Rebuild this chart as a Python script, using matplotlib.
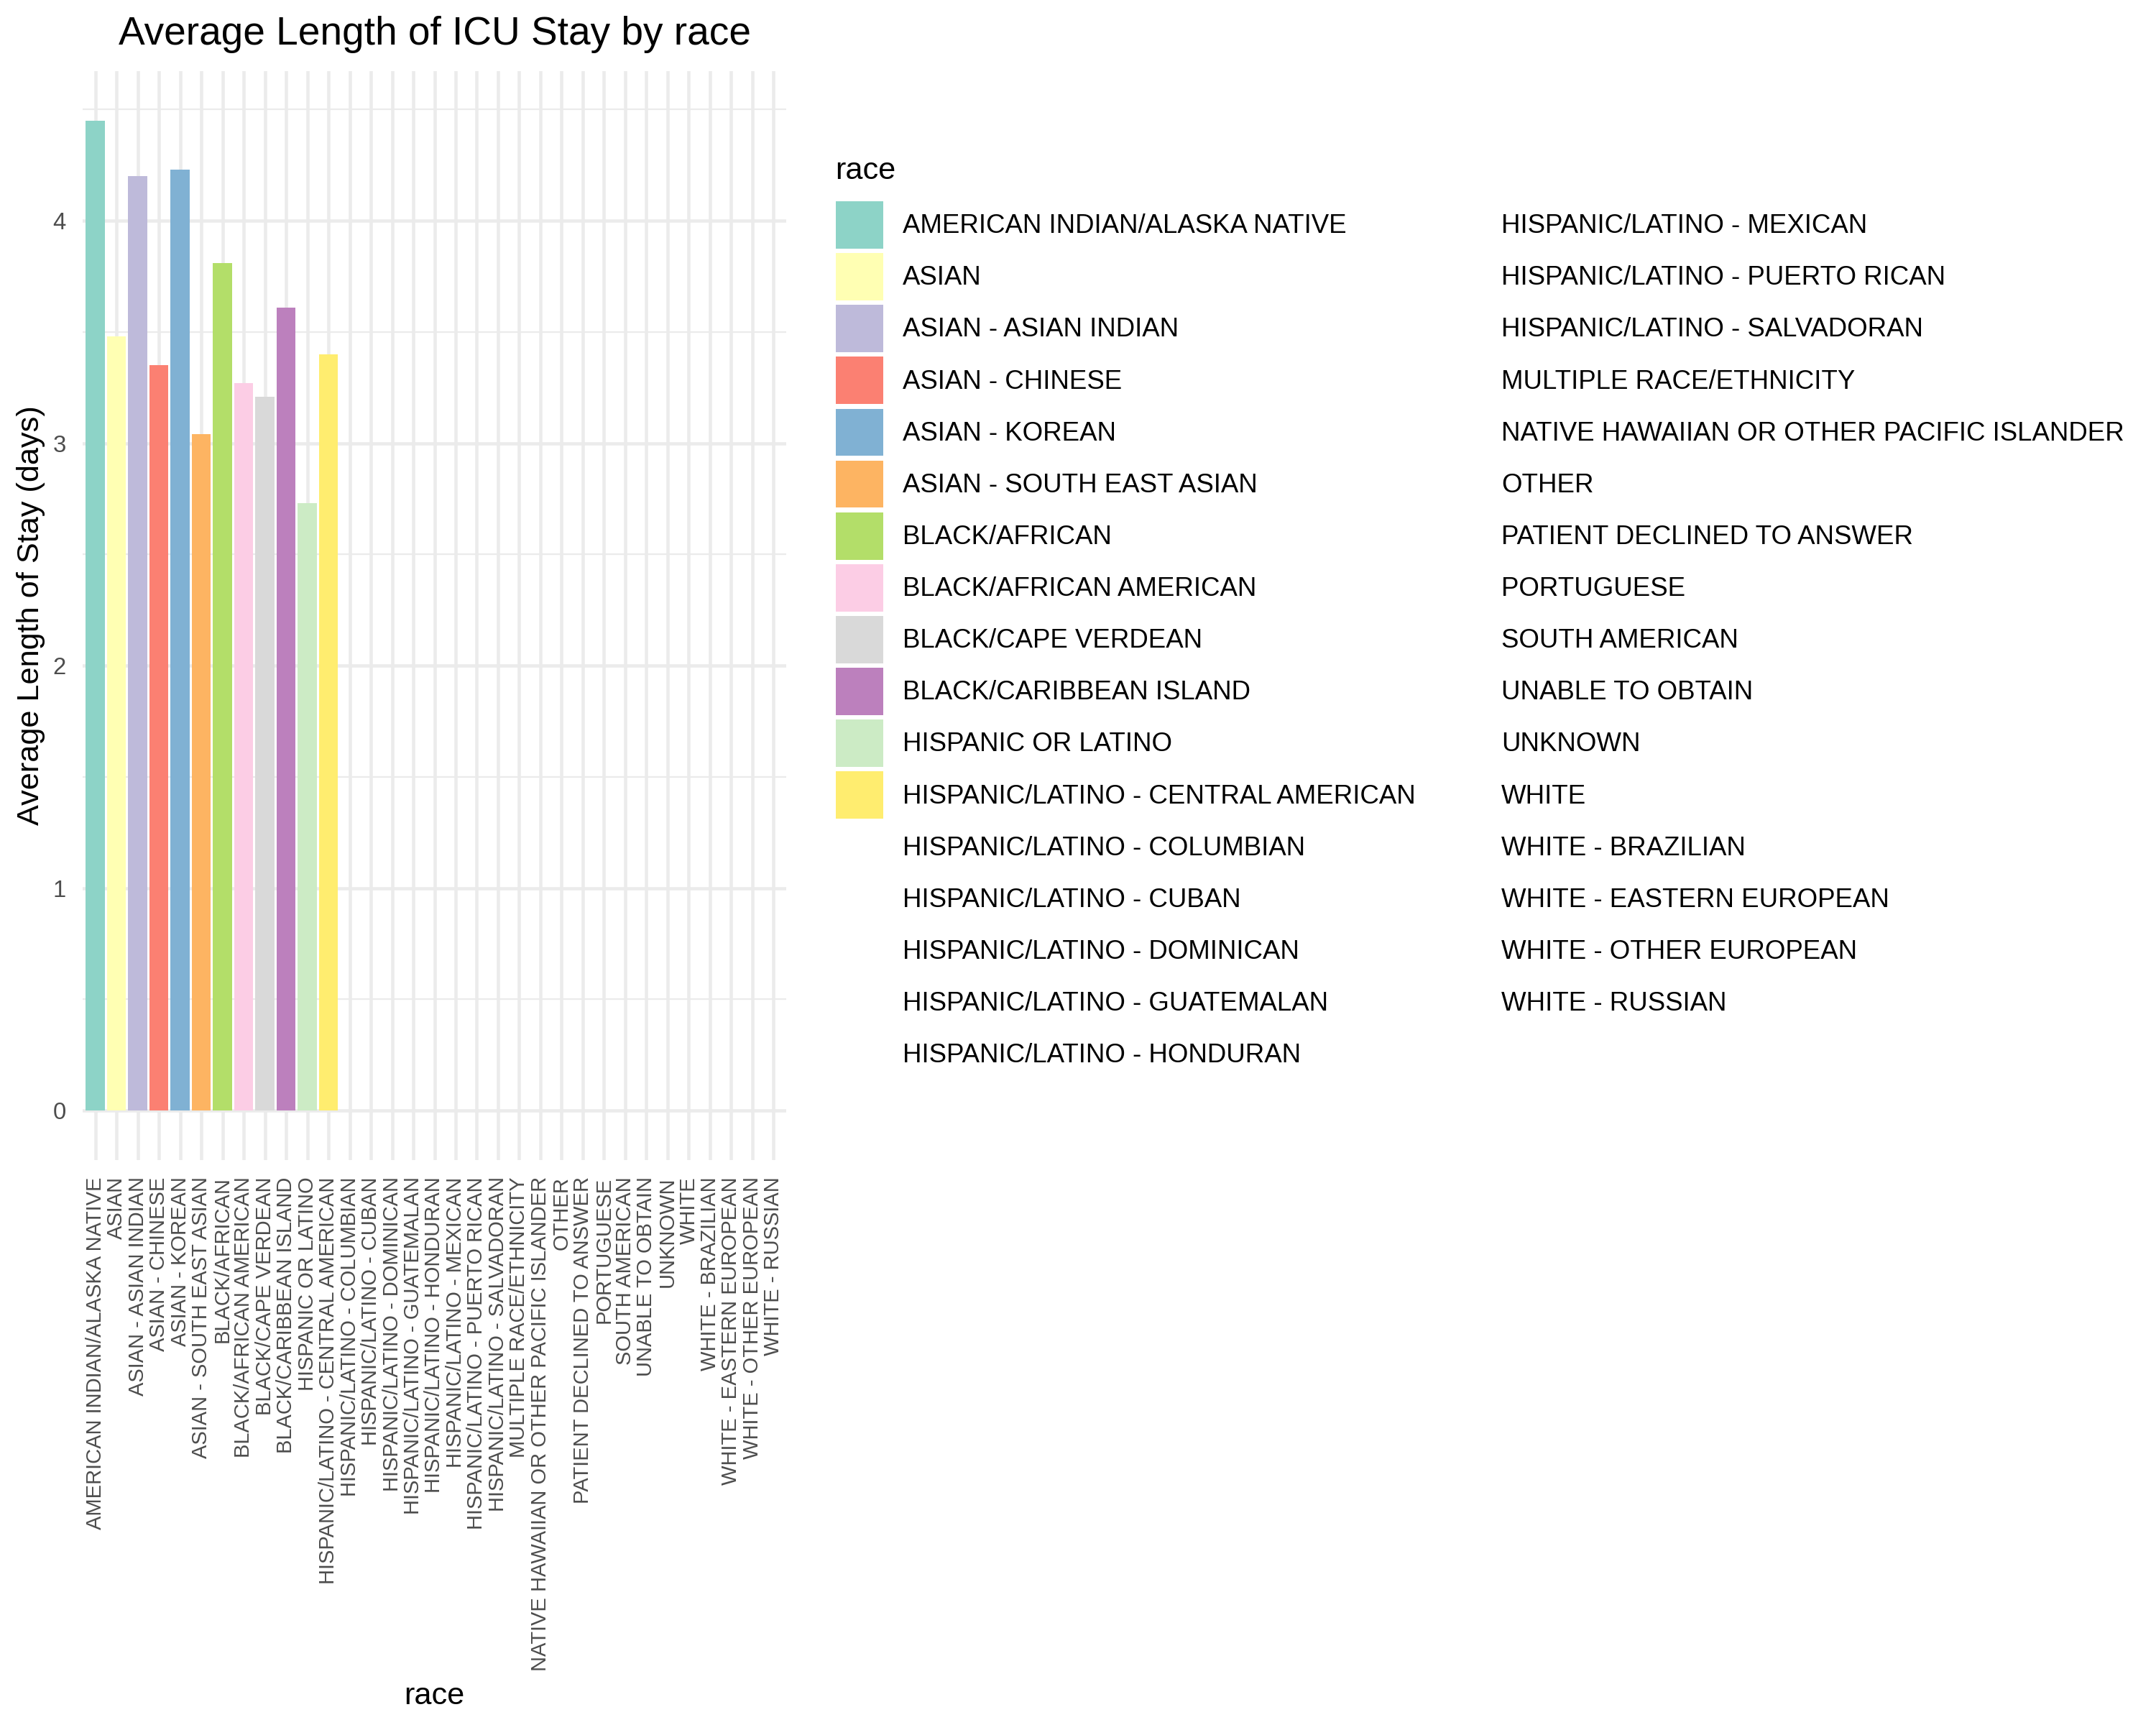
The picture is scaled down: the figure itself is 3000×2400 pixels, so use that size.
import numpy as np
import matplotlib
matplotlib.use("Agg")
import matplotlib.pyplot as plt
from matplotlib.patches import Patch

plt.rcParams['font.family'] = ['Liberation Sans', 'DejaVu Sans']

races = [
    "AMERICAN INDIAN/ALASKA NATIVE", "ASIAN", "ASIAN - ASIAN INDIAN",
    "ASIAN - CHINESE", "ASIAN - KOREAN", "ASIAN - SOUTH EAST ASIAN",
    "BLACK/AFRICAN", "BLACK/AFRICAN AMERICAN", "BLACK/CAPE VERDEAN",
    "BLACK/CARIBBEAN ISLAND", "HISPANIC OR LATINO",
    "HISPANIC/LATINO - CENTRAL AMERICAN", "HISPANIC/LATINO - COLUMBIAN",
    "HISPANIC/LATINO - CUBAN", "HISPANIC/LATINO - DOMINICAN",
    "HISPANIC/LATINO - GUATEMALAN", "HISPANIC/LATINO - HONDURAN",
    "HISPANIC/LATINO - MEXICAN", "HISPANIC/LATINO - PUERTO RICAN",
    "HISPANIC/LATINO - SALVADORAN", "MULTIPLE RACE/ETHNICITY",
    "NATIVE HAWAIIAN OR OTHER PACIFIC ISLANDER", "OTHER",
    "PATIENT DECLINED TO ANSWER", "PORTUGUESE", "SOUTH AMERICAN",
    "UNABLE TO OBTAIN", "UNKNOWN", "WHITE", "WHITE - BRAZILIAN",
    "WHITE - EASTERN EUROPEAN", "WHITE - OTHER EUROPEAN", "WHITE - RUSSIAN",
]

# only the first 12 groups get a colour from Set3, the rest are not drawn
avg_los = [4.45, 3.48, 4.20, 3.35, 4.23, 3.04, 3.81, 3.27, 3.21, 3.61, 2.73, 3.40]

set3 = ["#8DD3C7", "#FFFFB3", "#BEBADA", "#FB8072", "#80B1D3", "#FDB462",
        "#B3DE69", "#FCCDE5", "#D9D9D9", "#BC80BD", "#CCEBC5", "#FFED6F"]

fig = plt.figure(figsize=(10, 8), dpi=300)
ax = fig.add_axes([0.0383, 0.3275, 0.3264, 0.6313])

x = np.arange(len(races))
ax.bar(x[:len(avg_los)], avg_los, width=0.9, color=set3, zorder=2)

ymax = max(avg_los)
ax.set_xlim(-0.6, len(races) - 0.4)
ax.set_ylim(-0.05 * ymax, 1.05 * ymax)

# theme_minimal look
for s in ax.spines.values():
    s.set_visible(False)
ax.set_yticks([0, 1, 2, 3, 4])
ax.set_yticks(np.arange(0.5, 4.6, 1.0), minor=True)
ax.set_xticks(x)
ax.set_xticklabels(races, rotation=90, fontsize=7.0, color="#4D4D4D")
ax.tick_params(axis='x', length=0, pad=5.6)
ax.tick_params(axis='y', which='both', length=0, pad=5.5, labelsize=7.9, labelcolor="#4D4D4D")
ax.grid(True, which='major', color="#EBEBEB", linewidth=1.1, zorder=0)
ax.grid(True, which='minor', axis='y', color="#EBEBEB", linewidth=0.55, zorder=0)
ax.set_axisbelow(True)

ax.set_title("Average Length of ICU Stay by race", fontsize=13.2, pad=8.9)
ax.set_xlabel("race", fontsize=10.4, labelpad=3.5)
ax.set_ylabel("Average Length of Stay (days)", fontsize=10.4, labelpad=2.5)

handles = []
for i, r in enumerate(races):
    if i < len(set3):
        handles.append(Patch(facecolor=set3[i], edgecolor='none', label=r))
    else:
        handles.append(Patch(facecolor='none', edgecolor='none', label=r))

fig.text(0.3873, 0.8963, "race", fontsize=10.4, ha='left', va='baseline')
fig.legend(handles=handles, ncol=2, loc='upper left',
           bbox_to_anchor=(0.3877, 0.8833), frameon=False,
           fontsize=8.8, handlelength=1.8, handleheight=2.38,
           handletextpad=0.74, labelspacing=0.175, columnspacing=0.7,
           borderpad=0, borderaxespad=0)

fig.savefig("out.png", dpi=300)
